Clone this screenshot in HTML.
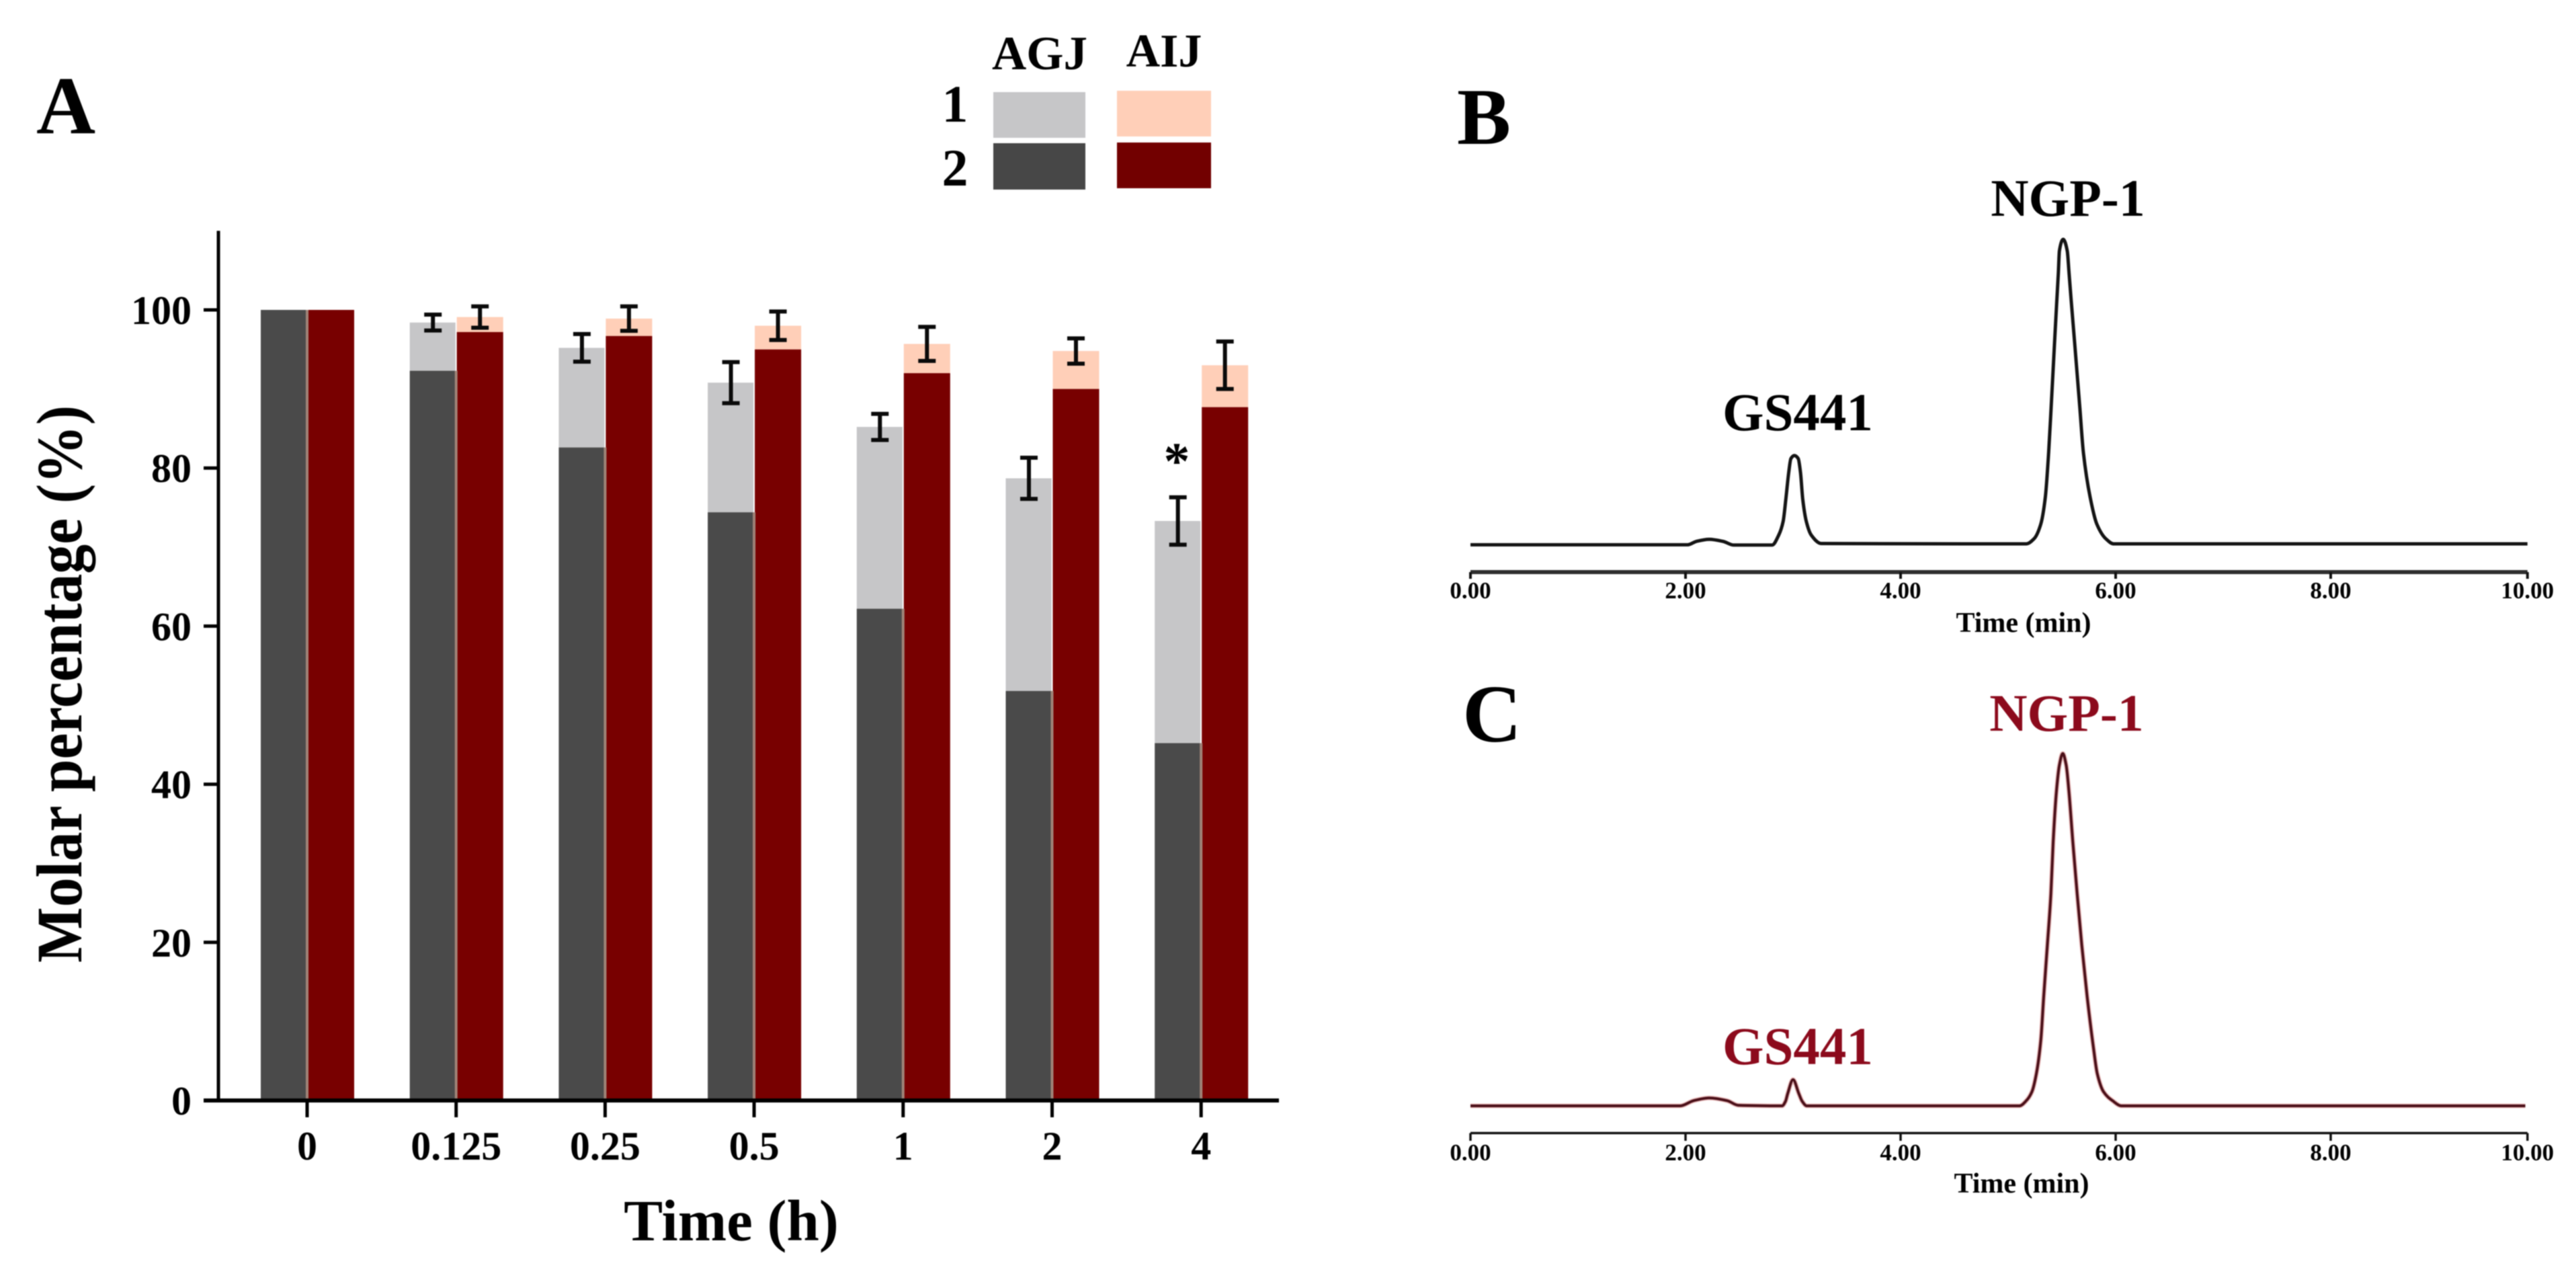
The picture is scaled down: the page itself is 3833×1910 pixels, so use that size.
<!DOCTYPE html>
<html lang="en">
<head>
<meta charset="utf-8">
<title>Molar percentage and chromatograms</title>
<style>
html,body{margin:0;padding:0;background:#fff;}
svg{display:block;filter:blur(0.8px);}
text{font-family:"Liberation Serif","Times New Roman",serif;font-weight:bold;fill:#000;}
</style>
</head>
<body>
<svg id="figure" xmlns="http://www.w3.org/2000/svg" width="3833" height="1910" viewBox="0 0 3833 1910">
  <rect x="0" y="0" width="3833" height="1910" fill="#ffffff"/>

  <text x="54" y="198" font-size="122">A</text>
  <text x="2168" y="214" font-size="120">B</text>
  <text x="2176" y="1103" font-size="122">C</text>

  <g>
    <text x="1547" y="103" font-size="71" text-anchor="middle">AGJ</text>
    <text x="1732" y="99" font-size="70" text-anchor="middle">AIJ</text>
    <text x="1421" y="181" font-size="78" text-anchor="middle">1</text>
    <text x="1421" y="276" font-size="78" text-anchor="middle">2</text>
    <rect x="1478" y="137" width="137" height="68" fill="#c6c6c8"/>
    <rect x="1478" y="213" width="137" height="69" fill="#474747"/>
    <rect x="1662" y="135" width="140" height="68" fill="#ffcfb8"/>
    <rect x="1662" y="212" width="140" height="68" fill="#720000"/>
  </g>

  <g id="bars-layer"></g>
  <g id="errors-layer"></g>
  <g id="axis-a-layer"></g>

  <text x="1751" y="712" font-size="78" text-anchor="middle">*</text>
  <text transform="translate(121,1432) rotate(-90)" x="0" y="0" font-size="96" textLength="829" lengthAdjust="spacingAndGlyphs">Molar percentage (%)</text>
  <text x="1088" y="1845" font-size="87" text-anchor="middle">Time (h)</text>

  <g id="panel-b">
    <text x="3077" y="321" font-size="78" text-anchor="middle">NGP-1</text>
    <text x="2675" y="640" font-size="79" text-anchor="middle">GS441</text>
    <text x="3011" y="940" font-size="42" text-anchor="middle">Time (min)</text>
  </g>
  <g id="panel-c">
    <text x="3075" y="1087" font-size="78" text-anchor="middle" style="fill:#8c0a1c">NGP-1</text>
    <text x="2675" y="1583" font-size="79" text-anchor="middle" style="fill:#8c0a1c">GS441</text>
    <text x="3008" y="1774" font-size="42" text-anchor="middle">Time (min)</text>
  </g>
</svg>

<script>
// ---- Panel A data ----
const categories = ['0', '0.125', '0.25', '0.5', '1', '2', '4'];
const yTickLabels = [0, 20, 40, 60, 80, 100];
const agjTotal = [100, 98.4, 95.2, 90.8, 85.2, 78.7, 73.3];
const agjPart2 = [100, 92.3, 82.6, 74.4, 62.2, 51.8, 45.2];
const aijTotal = [100, 99.1, 98.9, 98.0, 95.7, 94.8, 93.0];
const aijPart2 = [100, 97.2, 96.7, 95.0, 92.0, 90.0, 87.7];
const agjError = [0, 1.0, 1.75, 2.6, 1.65, 2.6, 3.0];
const aijError = [0, 1.35, 1.55, 1.8, 2.15, 1.6, 3.0];

// ---- Panels B and C data (minutes, signal) ----
const chromTickValues = [0, 2, 4, 6, 8, 9.83];
const chromTickLabels = ['0.00', '2.00', '4.00', '6.00', '8.00', '10.00'];
const bTimes = [0, 2.02, 2.1, 2.22, 2.35, 2.45, 2.805, 2.867, 2.908, 2.933, 2.96, 2.98, 3.0125, 3.048, 3.069, 3.09, 3.123, 3.169, 3.263, 5.169, 5.242, 5.304, 5.346, 5.377, 5.4, 5.433, 5.452, 5.467, 5.477, 5.5125, 5.55, 5.567, 5.588, 5.617, 5.667, 5.7, 5.763, 5.825, 5.908, 5.981, 9.83];
const bSignal = [-0.3, -0.3, 0.8, 1.5, 0.8, -0.4, -0.4, 2.9, 7.4, 14.7, 23.5, 28, 29, 28, 23.5, 14.7, 7.4, 2.9, 0.1, 0, 1.7, 6.5, 15.3, 30, 44.7, 66.8, 79.3, 88.8, 96.2, 100, 96.2, 88.8, 79.3, 66.8, 44.7, 30, 15.3, 6.5, 1.7, 0, 0];
const cTimes = [0, 1.95, 2.075, 2.22, 2.3875, 2.49, 2.898, 2.93, 2.95, 3.0, 3.054, 3.085, 3.127, 5.106, 5.169, 5.221, 5.263, 5.304, 5.331, 5.365, 5.398, 5.419, 5.45, 5.477, 5.508, 5.54, 5.565, 5.602, 5.642, 5.685, 5.735, 5.794, 5.829, 5.888, 5.971, 6.054, 9.81];
const cSignal = [0, 0, 1.7, 2.6, 1.7, 0.2, 0, 1.5, 4, 8.6, 4, 1.5, 0, 0, 1.7, 4.6, 10.6, 21.5, 35.9, 52.8, 69.7, 86.6, 103.5, 111.9, 115.7, 111.9, 103.5, 86.6, 69.7, 52.8, 35.9, 19, 10.6, 4.6, 1.7, 0, 0];

const NS = 'http://www.w3.org/2000/svg';
function make(tag, attrs, parent, text) {
  const n = document.createElementNS(NS, tag);
  for (const k in attrs) n.setAttribute(k, attrs[k]);
  if (text !== undefined) n.textContent = text;
  parent.appendChild(n);
  return n;
}

// ---- Panel A axis functions ----
const yA = v => 1637 - v * 11.76;
const xA = i => 457 + i * 221.7;
const barsLayer = document.getElementById('bars-layer');
const errorsLayer = document.getElementById('errors-layer');
const axisA = document.getElementById('axis-a-layer');

function drawBar(parent, x, w, top, bottom, fill, name) {
  const r = make('rect', { x: x, y: yA(top), width: w, height: yA(bottom) - yA(top), fill: fill }, parent);
  
  
}
function drawError(parent, cx, center, err, name) {
  if (err <= 0) return;
  const g = make('g', { stroke: '#0a0a0a', 'stroke-width': 6, fill: 'none' }, parent);
  
  
  make('line', { x1: cx, x2: cx, y1: yA(center + err), y2: yA(center - err) }, g);
  make('line', { x1: cx - 13, x2: cx + 13, y1: yA(center + err), y2: yA(center + err) }, g);
  make('line', { x1: cx - 13, x2: cx + 13, y1: yA(center - err), y2: yA(center - err) }, g);
}

categories.forEach((cat, i) => {
  const cx = xA(i);
  const label = 't-' + cat;
  drawBar(barsLayer, cx - 69, 68, agjTotal[i], agjPart2[i], '#c6c6c8', 'bar-agj-1-' + label);
  drawBar(barsLayer, cx - 69, 68, agjPart2[i], 0, '#4a4a4a', 'bar-agj-2-' + label);
  drawBar(barsLayer, cx + 1, 69, aijTotal[i], aijPart2[i], '#ffcfb8', 'bar-aij-1-' + label);
  drawBar(barsLayer, cx + 1, 69, aijPart2[i], 0, '#780000', 'bar-aij-2-' + label);
  drawBar(barsLayer, cx - 2, 4, Math.min(agjPart2[i], aijPart2[i]), 0, '#a08478', 'bar-separator-' + label);
  drawError(errorsLayer, cx - 34.5, agjTotal[i], agjError[i], 'error-bar-agj-' + label);
  drawError(errorsLayer, cx + 35.5, aijTotal[i], aijError[i], 'error-bar-aij-' + label);

  const tick = make('line', { x1: cx, x2: cx, y1: 1637, y2: 1662, stroke: '#000', 'stroke-width': 5 }, axisA);
  
  
  const lab = make('text', { x: cx, y: 1725, 'font-size': 60, 'text-anchor': 'middle' }, axisA, cat);
  
  
});

yTickLabels.forEach(v => {
  const tick = make('line', { x1: 303, x2: 325, y1: yA(v), y2: yA(v), stroke: '#000', 'stroke-width': 5 }, axisA);
  
  
  const lab = make('text', { x: 285, y: yA(v) + 21, 'font-size': 60, 'text-anchor': 'end' }, axisA, String(v));
  
  
});
const yAxisLine = make('line', { x1: 325, x2: 325, y1: yA(110), y2: 1640, stroke: '#000', 'stroke-width': 5 }, axisA);


const xAxisLine = make('line', { x1: 303, x2: 1903, y1: 1637, y2: 1637, stroke: '#000', 'stroke-width': 6 }, axisA);



// ---- Chromatogram helpers ----
const xChrom = t => 2188 + t * 160;
function smoothPath(times, values, yScale) {
  const xs = times.map(xChrom);
  const ys = values.map(yScale);
  const n = xs.length;
  const slopes = [];
  for (let i = 0; i < n - 1; i++) slopes.push((ys[i + 1] - ys[i]) / (xs[i + 1] - xs[i]));
  const m = new Array(n).fill(0);
  for (let i = 1; i < n - 1; i++) {
    if (slopes[i - 1] * slopes[i] > 0) {
      const h0 = xs[i] - xs[i - 1], h1 = xs[i + 1] - xs[i];
      const w1 = 2 * h1 + h0, w2 = h1 + 2 * h0;
      m[i] = (w1 + w2) / (w1 / slopes[i - 1] + w2 / slopes[i]);
    }
  }
  let d = 'M' + xs[0].toFixed(2) + ' ' + ys[0].toFixed(2);
  for (let i = 0; i < n - 1; i++) {
    const h = (xs[i + 1] - xs[i]) / 3;
    d += ' C' + (xs[i] + h).toFixed(2) + ' ' + (ys[i] + m[i] * h).toFixed(2) + ' ' +
      (xs[i + 1] - h).toFixed(2) + ' ' + (ys[i + 1] - m[i + 1] * h).toFixed(2) + ' ' +
      xs[i + 1].toFixed(2) + ' ' + ys[i + 1].toFixed(2);
  }
  return d;
}
function drawAxis(parent, prefix, axisY, axisW, tickW, tickEnd, labelY) {
  const line = make('line', { x1: xChrom(0), x2: xChrom(chromTickValues[chromTickValues.length - 1]), y1: axisY, y2: axisY, stroke: axisW > 4 ? '#2e2e2e' : '#111', 'stroke-width': axisW }, parent);
  
  
  chromTickValues.forEach((t, i) => {
    const tick = make('line', { x1: xChrom(t), x2: xChrom(t), y1: axisY, y2: tickEnd, stroke: '#111', 'stroke-width': tickW }, parent);
    
    
    const lab = make('text', { x: xChrom(t), y: labelY, 'font-size': 35, 'text-anchor': 'middle' }, parent, chromTickLabels[i]);
    
    
  });
}

// ---- Panel B ----
const panelB = document.getElementById('panel-b');
const yB = s => 809 - s * 4.53;
drawAxis(panelB, 'b', 851, 6, 4, 861, 890);
const traceB = make('path', { d: smoothPath(bTimes, bSignal, yB), fill: 'none', stroke: '#141414', 'stroke-width': 5, 'stroke-linejoin': 'round' }, panelB);



// ---- Panel C ----
const panelC = document.getElementById('panel-c');
const yC = s => 1645 - s * 4.53;
drawAxis(panelC, 'c', 1685.5, 3.5, 3.5, 1697, 1726);
const haloC = make('path', { d: smoothPath(cTimes, cSignal, yC), fill: 'none', stroke: '#e9bcbc', 'stroke-width': 7, 'stroke-linejoin': 'round' }, panelC);


const traceC = make('path', { d: smoothPath(cTimes, cSignal, yC), fill: 'none', stroke: '#4a0f18', 'stroke-width': 4, 'stroke-linejoin': 'round' }, panelC);


</script>
</body>
</html>
